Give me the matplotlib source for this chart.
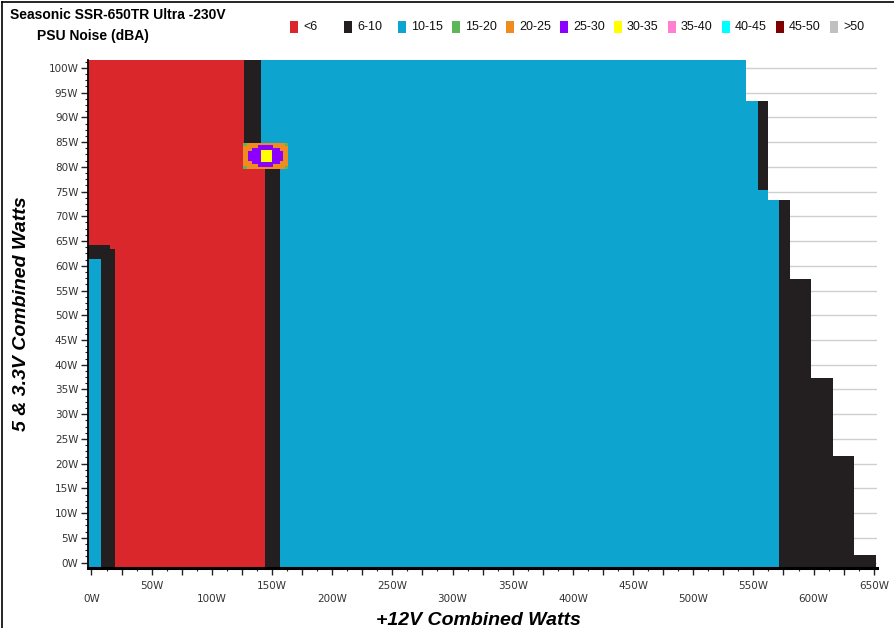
import numpy as np
import matplotlib
matplotlib.use("Agg")
import matplotlib.pyplot as plt
from matplotlib.colors import ListedColormap, BoundaryNorm
from matplotlib.patches import Rectangle
from matplotlib.lines import Line2D
from matplotlib.ticker import MultipleLocator

# noise bands (dBA) and their colours
bands = ["<6", "6-10", "10-15", "15-20", "20-25", "25-30",
         "30-35", "35-40", "40-45", "45-50", ">50"]
band_colors = ["#d9272b", "#231f20", "#0ea4d0", "#5db75a", "#ef8c1f", "#8b00ff",
               "#ffff00", "#ff7fd0", "#00ffff", "#7f0000", "#c0c0c0"]

# measured zones: +12V load range (W), 5V/3.3V load range (W), noise band
# zones further down the list overwrite earlier ones, -1 = load not tested
zone_x0 = [-10, -10, -10, 126.7, 144.2, -10, -10, -10,
           553.8, 571.3,
           543.8, 561.9, 561.9, 580.4, 597.8, 616.1, 633.5, 651.8,
           126.1, 126.1, 160.4, 126.1, 160.4,
           138.6, 133.1, 130.3, 133.1, 138.6, 140.5]
zone_x1 = [700, 126.7, 144.2, 140.5, 156.6, 15.4, 19.5, 7.6,
           561.9, 700,
           700, 700, 700, 700, 700, 700, 700, 700,
           163.5, 129.2, 163.5, 129.2, 163.5,
           151.1, 156.6, 159.4, 156.6, 151.1, 149.7]
zone_y0 = [-10, 79.5, -10, 79.5, -10, -10, -10, -10,
           75.4, -10,
           93.4, 75.4, 73.3, 57.3, 37.4, 21.5, 1.5, -10,
           79.5, 84.2, 84.2, 79.5, 79.5,
           83.8, 83.2, 81.2, 80.5, 79.9, 81.0]
zone_y1 = [110, 110, 79.5, 110, 79.5, 64.2, 63.4, 61.4,
           93.4, 73.3,
           110, 93.4, 75.4, 73.3, 57.3, 37.4, 21.5, 1.5,
           84.8, 84.8, 84.8, 80.1, 80.1,
           84.5, 83.8, 83.2, 81.2, 80.5, 83.5]
zone_band = [2, 0, 0, 1, 1, 1, 1, 2,
             1, 1,
             -1, -1, -1, -1, -1, -1, -1, -1,
             4, 3, 3, 3, 3,
             5, 5, 5, 5, 5, 6]

# paint the zones onto a grid built from their edges
xe = np.unique(zone_x0 + zone_x1)
ye = np.unique(zone_y0 + zone_y1)
xc = (xe[:-1] + xe[1:]) / 2
yc = (ye[:-1] + ye[1:]) / 2
Z = np.full((len(yc), len(xc)), -1.0)
for x0, x1, y0, y1, b in zip(zone_x0, zone_x1, zone_y0, zone_y1, zone_band):
    ix = (xc > x0) & (xc < x1)
    iy = (yc > y0) & (yc < y1)
    Z[np.ix_(iy, ix)] = b
Z = np.ma.masked_less(Z, 0)

cmap = ListedColormap(band_colors)
norm = BoundaryNorm(np.arange(-0.5, len(bands) + 0.5), cmap.N)

fig = plt.figure(figsize=(8.94, 6.28), dpi=100)
ax = fig.add_axes([88 / 894, 1 - 568 / 628, (877 - 88) / 894, (568 - 60) / 628])

ax.pcolormesh(xe, ye, Z, cmap=cmap, norm=norm, antialiased=False,
              edgecolors="none", zorder=1)

ax.set_xlim(-2.9, 652.7)
ax.set_ylim(-1.1, 101.6)

# axes styling
for s in ["top", "right"]:
    ax.spines[s].set_visible(False)
ax.spines["left"].set_linewidth(1.3)
ax.spines["bottom"].set_linewidth(2.2)
ax.spines["left"].set_zorder(3)
ax.spines["bottom"].set_zorder(3)

ax.set_axisbelow(True)
ax.yaxis.grid(True, color="#cfcfcf", linewidth=1.0)

yt = np.arange(0, 101, 5)
ax.set_yticks(yt)
ax.set_yticklabels([f"{v}W" for v in yt])
ax.yaxis.set_minor_locator(MultipleLocator(1.25))

xt = np.arange(0, 651, 25)
xlabels = [f"{v}W" if v % 50 == 0 else "" for v in xt]
ax.set_xticks(xt)
ax.set_xticklabels(xlabels)
ax.xaxis.set_minor_locator(MultipleLocator(12.5))

ax.tick_params(axis="both", which="major", length=5, width=1, color="#222222",
               labelsize=7.5, labelcolor="#333333")
ax.tick_params(axis="both", which="minor", length=2.5, width=0.8, color="#222222")
ax.tick_params(axis="y", which="major", pad=2)

# stagger the +12V labels over two rows
for v, t in zip(xt, ax.xaxis.get_major_ticks()):
    t.set_pad(14 if v % 100 == 0 else 4.5)

ax.set_xlabel("+12V Combined Watts", fontsize=14, fontweight="bold",
              fontstyle="italic", family=["Liberation Sans", "DejaVu Sans"],
              labelpad=0)
ax.xaxis.set_label_coords(0.495, -0.087)
ax.set_ylabel("5 & 3.3V Combined Watts", fontsize=14, fontweight="bold",
              fontstyle="italic", family=["Liberation Sans", "DejaVu Sans"])
ax.yaxis.set_label_coords(-0.074, 0.5)

# title block
narrow = ["Liberation Sans Narrow", "Liberation Sans", "DejaVu Sans"]
fig.text(10 / 894, 1 - 15 / 628, "Seasonic SSR-650TR Ultra -230V", fontsize=10,
         fontweight="bold", family=narrow, va="center", ha="left")
fig.text(37 / 894, 1 - 36 / 628, "PSU Noise (dBA)", fontsize=10,
         fontweight="bold", family=narrow, va="center", ha="left")

# legend row
for i, (lab, col) in enumerate(zip(bands, band_colors)):
    x = 290 + 54 * i
    fig.add_artist(Rectangle((x / 894, 1 - 33 / 628), 8 / 894, 12 / 628,
                             transform=fig.transFigure, facecolor=col,
                             edgecolor="none"))
    fig.text((x + 13) / 894, 1 - 27 / 628, lab, fontsize=9, family=narrow,
             va="center", ha="left", color="#111111")

# outer frame
fig.add_artist(Line2D([2 / 894, 2 / 894], [0, 1 - 2 / 628], color="black",
                      linewidth=1.2, transform=fig.transFigure))
fig.add_artist(Line2D([2 / 894, 1], [1 - 2 / 628, 1 - 2 / 628], color="black",
                      linewidth=1.2, transform=fig.transFigure))

fig.savefig("out.png", dpi=100)
